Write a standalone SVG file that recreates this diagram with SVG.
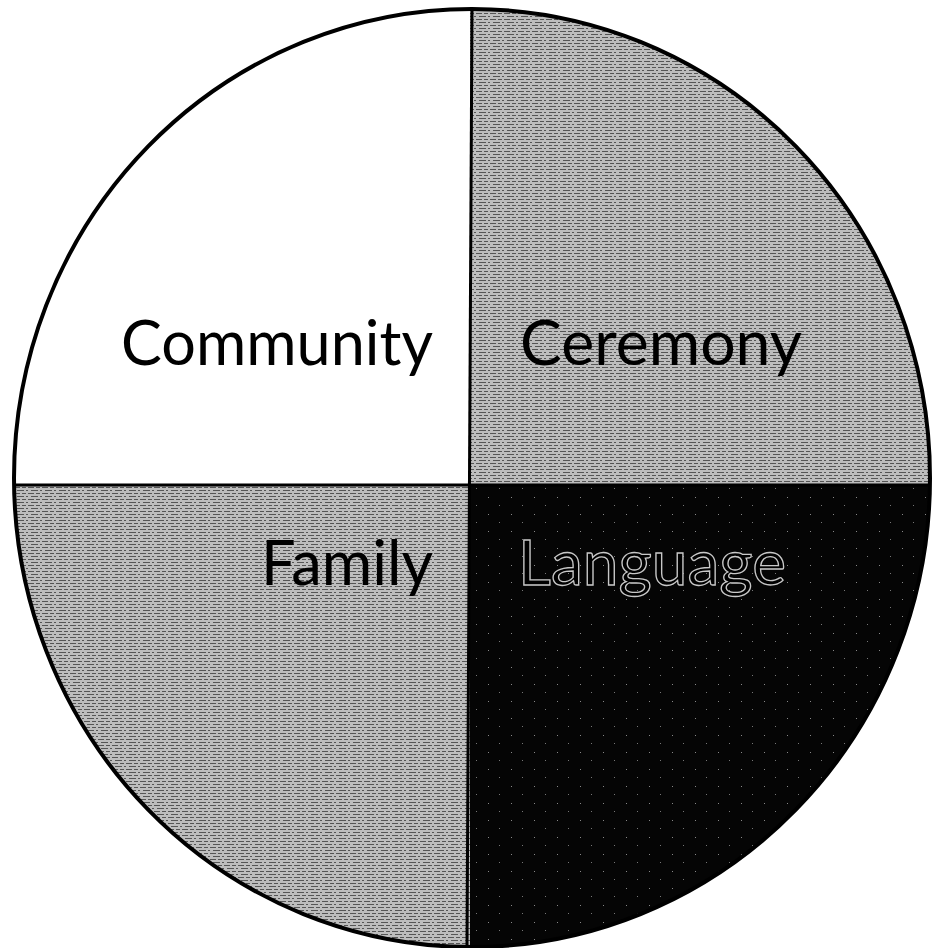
<svg xmlns="http://www.w3.org/2000/svg" width="935" height="948" viewBox="0 0 935 948">
  <defs>
    <pattern id="stip" width="14" height="6" patternUnits="userSpaceOnUse">
      <rect width="14" height="6" fill="#bdbdbd"/>
      <path d="M0,1.5 H6 M8,1.5 H12 M3,4.5 H10 M12,4.5 H14" stroke="#555555" stroke-width="1.2"/>
    </pattern>
    <pattern id="dark" width="23" height="17" patternUnits="userSpaceOnUse">
      <rect width="23" height="17" fill="#050505"/>
      <rect x="5" y="4" width="1" height="1" fill="#888"/>
      <rect x="16" y="12" width="1" height="1" fill="#777"/>
    </pattern>
    <style>
      .seg { stroke: none; }
      .lbl { font-family: "Century Gothic", "Lato", "Noto Sans", "Liberation Sans", sans-serif; font-size: 62px; }
    </style>
  </defs>
  <rect width="935" height="948" fill="#ffffff"/>
  <g id="community">
    <path class="seg" d="M470,485 L14,485 A458,469 0 0 1 470,9 Z" fill="#ffffff"/>
    <text class="lbl" x="121" y="365" textLength="312" lengthAdjust="spacingAndGlyphs" fill="#000">Community</text>
  </g>
  <g id="ceremony">
    <path class="seg" d="M470,485 L470,9 A458,469 0 0 1 930,485 Z" fill="url(#stip)"/>
    <text class="lbl" x="520" y="365" textLength="282" lengthAdjust="spacingAndGlyphs" fill="#000">Ceremony</text>
  </g>
  <g id="language">
    <path class="seg" d="M470,485 L930,485 A458,469 0 0 1 470,947 Z" fill="url(#dark)"/>
    <text class="lbl" x="518" y="585" textLength="268" lengthAdjust="spacingAndGlyphs" fill="#000" stroke="#c8c8c8" stroke-width="1.3">Language</text>
  </g>
  <g id="family">
    <path class="seg" d="M470,485 L470,947 A458,469 0 0 1 14,485 Z" fill="url(#stip)"/>
    <text class="lbl" x="261" y="585" textLength="172" lengthAdjust="spacingAndGlyphs" fill="#000">Family</text>
  </g>
  <g id="connectors" fill="none" stroke="#000">
    <ellipse cx="472" cy="478" rx="458" ry="469" stroke-width="4"/>
    <line x1="14" y1="485" x2="930" y2="485" stroke-width="3"/>
    <line x1="472" y1="9" x2="467" y2="947" stroke-width="3"/>
  </g>
</svg>
